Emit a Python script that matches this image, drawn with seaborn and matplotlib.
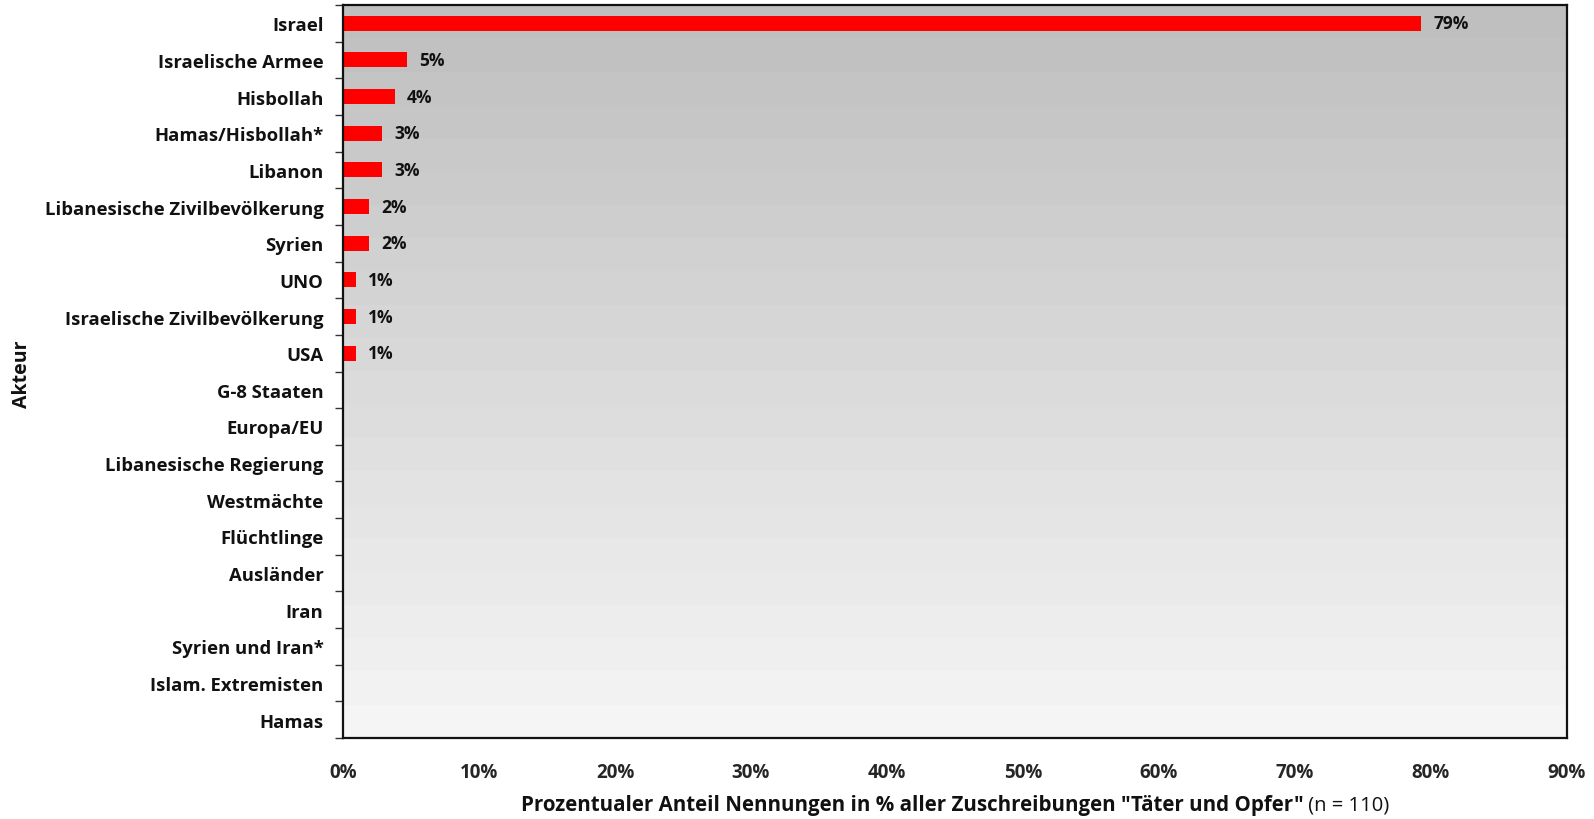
import numpy as np
import pandas as pd
import matplotlib
matplotlib.use("Agg")
import matplotlib.pyplot as plt
from matplotlib.ticker import FixedLocator, PercentFormatter
import seaborn as sns

# actors, top to bottom
actors = [
    "Israel", "Israelische Armee", "Hisbollah", "Hamas/Hisbollah*", "Libanon",
    "Libanesische Zivilbevölkerung", "Syrien", "UNO", "Israelische Zivilbevölkerung",
    "USA", "G-8 Staaten", "Europa/EU", "Libanesische Regierung", "Westmächte",
    "Flüchtlinge", "Ausländer", "Iran", "Syrien und Iran*", "Islam. Extremisten", "Hamas",
]
# share of mentions in percent
shares = [79.3, 4.7, 3.8, 2.85, 2.85, 1.9, 1.9, 0.95, 0.95, 0.95,
          0, 0, 0, 0, 0, 0, 0, 0, 0, 0]
x_ticks = [0, 10, 20, 30, 40, 50, 60, 70, 80, 90]

df = pd.DataFrame({"Akteur": actors, "Anteil": shares})

sns.set_style("white")
plt.rcParams["font.family"] = ["Open Sans", "DejaVu Sans"]

fig, ax = plt.subplots(figsize=(15.94, 8.2), dpi=100)
fig.subplots_adjust(left=343 / 1594, right=1567 / 1594, top=1 - 6 / 820, bottom=1 - 739 / 820)

# grey gradient background, dark at the top, light at the bottom
grad = np.linspace(0, 1, 22).reshape(-1, 1)
cmap = matplotlib.colors.LinearSegmentedColormap.from_list("bg", ["#bfbfbf", "#f5f5f5"])
ax.imshow(grad, cmap=cmap, aspect="auto", interpolation="nearest",
          extent=[0, 90, 19.5, -0.5], zorder=0)

sns.barplot(data=df, x="Anteil", y="Akteur", orient="h", color="#ff0000",
            saturation=1, width=0.41, linewidth=0, ax=ax, zorder=2)

ax.set_xlim(0, 90)
ax.set_ylim(19.5, -0.5)

# value labels for non-empty bars
for i, v in enumerate(shares):
    if v > 0:
        ax.annotate(f"{round(v):.0f}%", xy=(v, i), xytext=(9, 0), textcoords="offset points",
                    va="center", ha="left", fontsize=12.5, fontweight="bold", color="#111111")

# axes styling
ax.xaxis.set_major_locator(FixedLocator(x_ticks))
ax.xaxis.set_major_formatter(PercentFormatter(decimals=0))
ax.tick_params(axis="x", which="major", direction="out", length=5, width=1, color="#333333",
               labelsize=13.5, pad=12)
for lab in ax.get_xticklabels():
    lab.set_fontweight("bold")
ax.yaxis.set_minor_locator(FixedLocator(np.arange(-0.5, 20, 1)))
ax.tick_params(axis="y", which="major", length=0, labelsize=13.3, pad=14)
ax.tick_params(axis="y", which="minor", direction="out", length=6, width=1, color="#333333", left=True)
for lab in ax.get_yticklabels():
    lab.set_fontweight("bold")
    lab.set_color("#111111")

for s in ax.spines.values():
    s.set_visible(True)
    s.set_color("#111111")
    s.set_linewidth(1.6)

ax.set_ylabel("")
ax.set_xlabel("")
fig.text(22 / 1594, 1 - 374 / 820, "Akteur", rotation=90, ha="center", va="center",
         fontsize=14, fontweight="bold", color="#111111")

# x-axis title: bold part + normal part, centered together
fig.canvas.draw()
r = fig.canvas.get_renderer()
t1 = fig.text(0, 1 - 806 / 820, 'Prozentualer Anteil Nennungen in % aller Zuschreibungen "Täter und Opfer"',
              fontsize=14.8, fontweight="bold", va="center", ha="left", color="#111111")
t2 = fig.text(0, 1 - 806 / 820, " (n = 110)", fontsize=14.5, va="center", ha="left", color="#111111")
w1 = t1.get_window_extent(r).width
w2 = t2.get_window_extent(r).width
cx = 955
start = cx - (w1 + w2) / 2
t1.set_x(start / 1594)
t2.set_x((start + w1) / 1594)

plt.savefig("out.png", dpi=100)
